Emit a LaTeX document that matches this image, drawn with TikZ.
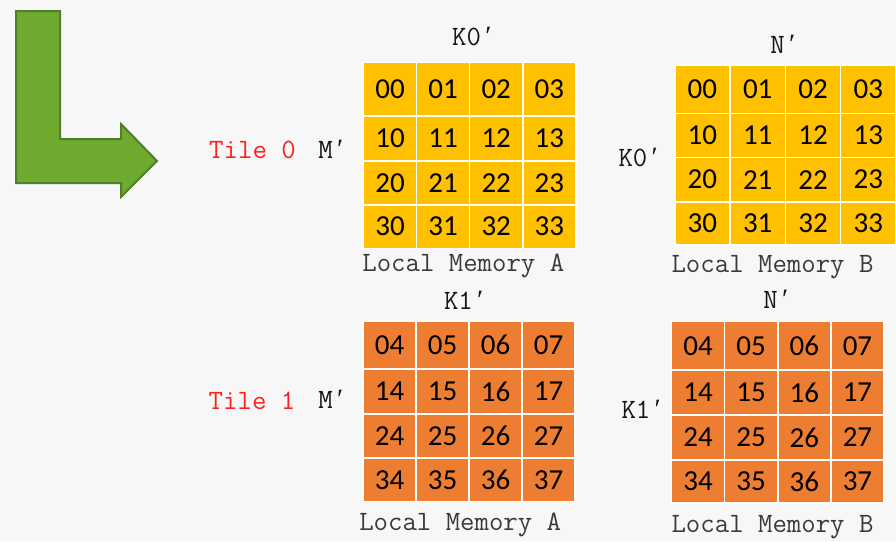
\documentclass[tikz,border=0pt]{standalone}
\usepackage{fontspec}
\setmainfont{Carlito}
\setmonofont{Latin Modern Mono}
\newfontfamily\primefont{Liberation Serif}
% slanted prime, kept one monospace cell wide
\newcommand\mprime{\makebox[0.525em][c]{\primefont ′}}

\definecolor{bgpage}{HTML}{F7F7F7}
\definecolor{tileyellow}{HTML}{FFC000}
\definecolor{tileorange}{HTML}{ED7D31}
\definecolor{arrowfill}{HTML}{6DAA2D}
\definecolor{arrowline}{HTML}{507E2A}
\definecolor{tilered}{HTML}{FF1F1F}
\definecolor{memgrey}{HTML}{3A3A3A}
\definecolor{dimblack}{HTML}{151515}

\tikzset{
  cell/.style={draw=white, line width=1.5pt, inner sep=0pt, anchor=north west,
               font=\fontsize{29}{29}\selectfont, text=black},
  monolbl/.style={anchor=base, inner sep=0pt,
                  font=\ttfamily\fontsize{28}{28}\selectfont},
  dimlbl/.style={monolbl, text=dimblack},
  memlbl/.style={monolbl, text=memgrey},
  tilelbl/.style={monolbl, text=tilered},
  bentarrow/.style={fill=arrowfill, draw=arrowline, line width=2pt, line join=miter},
}

% 4x4 grid of numbered cells:
% #1 name prefix, #2 left x, #3 cell width, #4 rows (index/top/bottom),
% #5 fill colour, #6 column offset of the numbers
\newcommand\memgrid[6]{%
  \foreach \r/\ya/\yb in {#4} {
    \foreach \c in {0,...,3} {
      \pgfmathsetmacro\xa{#2+\c*#3}
      \pgfmathsetmacro\hh{\yb-\ya}
      \pgfmathtruncatemacro\cc{\c+#6}
      \node[cell, fill=#5, minimum width=#3, minimum height=\hh]
        (#1-\r\cc) at (\xa,\ya) {\r\cc};
    }
  }
}

\begin{document}
\begin{tikzpicture}[x=1pt, y=-1pt]
  \useasboundingbox (0,0) rectangle (896,541);
  \fill[bgpage] (0,0) rectangle (896,541);

  % bent arrow
  \draw[bentarrow] (16,11) -- (60,11) -- (60,139) -- (121,139) -- (121,124)
    -- (157,161) -- (121,197) -- (121,183) -- (16,183) -- cycle;

  % tile 0
  \memgrid{a0}{362.7}{53.1}{0/61.7/115,1/115/160,2/160/204,3/204/247.7}{tileyellow}{0}
  \memgrid{b0}{674}{55.3}{0/64/112.7,1/112.7/156.7,2/156.7/201,3/201/244}{tileyellow}{0}

  \node[tilelbl] (t0) at (252.5,158.3) {Tile 0};
  \node[dimlbl] (m0) at (333,158.3) {M\mprime};
  \node[dimlbl] (ka0) at (474,45) {K0\mprime};
  \node[memlbl] (la0) at (463.3,271.7) {Local Memory A};
  \node[dimlbl] (n0) at (785,53.3) {N\mprime};
  \node[dimlbl] (kb0) at (640.3,166.7) {K0\mprime};
  \node[memlbl] (lb0) at (772.5,272.3) {Local Memory B};

  % tile 1
  \memgrid{a1}{362.3}{53}{0/320/368.3,1/368.3/413.3,2/413.3/457.3,3/457.3/500.7}{tileorange}{4}
  \memgrid{b1}{670.7}{53.15}{0/320.7/369.3,1/369.3/414.3,2/414.3/459,3/459/502.3}{tileorange}{4}

  \node[tilelbl] (t1) at (252,409.3) {Tile 1};
  \node[dimlbl] (m1) at (333,408.3) {M\mprime};
  \node[dimlbl] (ka1) at (465.8,309.3) {K1\mprime};
  \node[memlbl] (la1) at (460.2,530) {Local Memory A};
  \node[dimlbl] (n1) at (778,308.3) {N\mprime};
  \node[dimlbl] (kb1) at (643.3,418.3) {K1\mprime};
  \node[memlbl] (lb1) at (772.5,532.3) {Local Memory B};
\end{tikzpicture}
\end{document}
